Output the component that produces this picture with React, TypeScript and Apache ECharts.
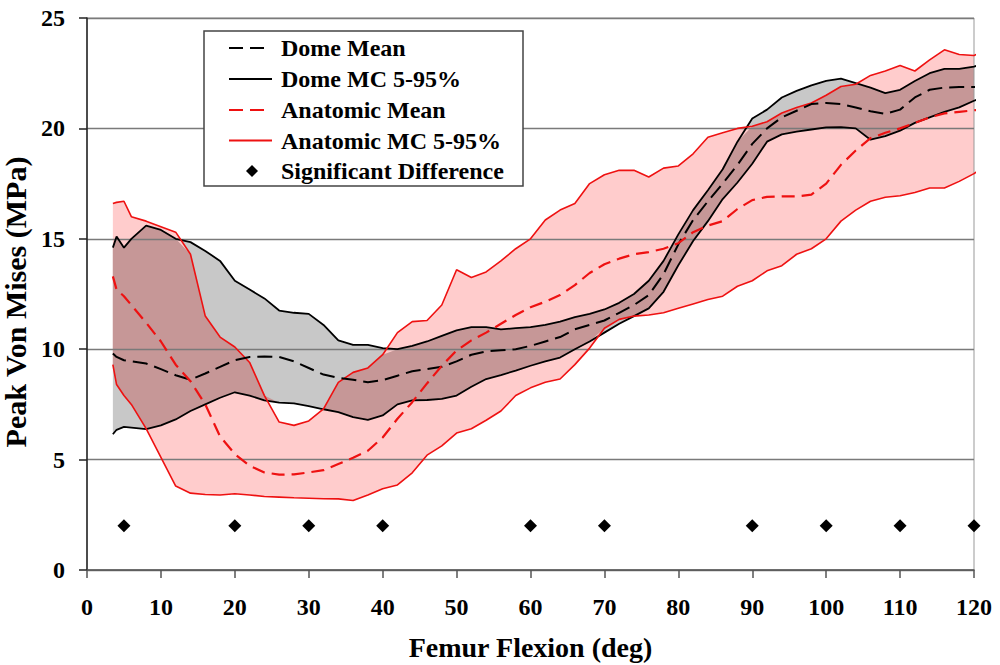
import React, { useEffect, useRef } from 'react';
import * as echarts from 'echarts';

// Femur flexion angles (deg) at which the curves were read
const flexion = [3.5, 4, 5, 6, 8, 10, 12, 14, 16, 18, 20, 22, 24, 26, 28, 30, 32, 34, 36, 38, 40, 42, 44, 46, 48, 50, 52, 54, 56, 58, 60, 62, 64, 66, 68, 70, 72, 74, 76, 78, 80, 82, 84, 86, 88, 90, 92, 94, 96, 98, 100, 102, 104, 106, 108, 110, 112, 114, 116, 118, 120, 120.8];

const domeUpper = [14.6, 15.1, 14.6, 15.0, 15.6, 15.4, 15.0, 14.85, 14.45, 14.0, 13.1, 12.7, 12.3, 11.75, 11.65, 11.6, 11.1, 10.4, 10.2, 10.2, 10.05, 10.0, 10.15, 10.35, 10.6, 10.85, 11.0, 11.0, 10.9, 10.95, 11.0, 11.1, 11.25, 11.45, 11.6, 11.8, 12.1, 12.5, 13.1, 14.0, 15.2, 16.3, 17.2, 18.15, 19.4, 20.45, 20.85, 21.4, 21.7, 21.95, 22.15, 22.25, 22.05, 21.85, 21.6, 21.75, 22.15, 22.5, 22.7, 22.7, 22.8, 22.88];

const domeMean = [9.8, 9.65, 9.5, 9.45, 9.35, 9.1, 8.82, 8.62, 8.9, 9.2, 9.5, 9.65, 9.67, 9.65, 9.45, 9.15, 8.85, 8.7, 8.62, 8.5, 8.6, 8.8, 9.0, 9.1, 9.2, 9.45, 9.75, 9.9, 9.95, 10.0, 10.15, 10.35, 10.55, 10.9, 11.1, 11.3, 11.65, 12.0, 12.45, 13.4, 14.75, 15.85, 16.7, 17.5, 18.35, 19.3, 20.0, 20.5, 20.8, 21.1, 21.15, 21.1, 20.95, 20.78, 20.66, 20.85, 21.4, 21.75, 21.85, 21.87, 21.87, 21.87];

const domeLower = [6.15, 6.35, 6.48, 6.45, 6.38, 6.55, 6.82, 7.2, 7.5, 7.8, 8.05, 7.9, 7.68, 7.58, 7.55, 7.42, 7.28, 7.15, 6.92, 6.8, 7.0, 7.5, 7.68, 7.7, 7.75, 7.9, 8.3, 8.65, 8.83, 9.03, 9.25, 9.45, 9.62, 10.0, 10.35, 10.75, 11.15, 11.5, 11.85, 12.6, 13.8, 14.9, 15.8, 16.8, 17.55, 18.4, 19.4, 19.73, 19.85, 19.95, 20.05, 20.06, 20.0, 19.49, 19.65, 19.9, 20.25, 20.5, 20.75, 20.95, 21.25, 21.37];

const anatUpper = [16.6, 16.65, 16.7, 16.0, 15.8, 15.55, 15.3, 14.3, 11.5, 10.55, 10.1, 9.4, 7.9, 6.7, 6.55, 6.75, 7.3, 8.5, 8.95, 9.15, 9.75, 10.75, 11.25, 11.3, 12.0, 13.6, 13.25, 13.5, 14.0, 14.55, 15.0, 15.85, 16.3, 16.6, 17.5, 17.9, 18.1, 18.1, 17.8, 18.2, 18.3, 18.85, 19.6, 19.8, 20.0, 20.1, 20.3, 20.7, 20.95, 21.15, 21.5, 21.9, 22.0, 22.4, 22.6, 22.85, 22.6, 23.1, 23.56, 23.35, 23.3, 23.41];

const anatMean = [13.3, 12.7, 12.4, 12.0, 11.2, 10.35, 9.3, 8.55, 7.5, 6.05, 5.25, 4.72, 4.42, 4.32, 4.33, 4.42, 4.52, 4.8, 5.08, 5.4, 6.0, 6.85, 7.6, 8.45, 9.25, 9.94, 10.4, 10.75, 11.15, 11.55, 11.9, 12.15, 12.45, 12.9, 13.45, 13.85, 14.1, 14.3, 14.4, 14.55, 14.8, 15.3, 15.6, 15.8, 16.35, 16.75, 16.9, 16.92, 16.92, 17.0, 17.5, 18.35, 19.0, 19.56, 19.8, 20.0, 20.25, 20.5, 20.68, 20.75, 20.82, 20.85];

const anatLower = [9.3, 8.4, 7.9, 7.5, 6.4, 5.1, 3.8, 3.48, 3.42, 3.4, 3.45, 3.4, 3.33, 3.3, 3.27, 3.25, 3.23, 3.22, 3.15, 3.4, 3.68, 3.85, 4.4, 5.2, 5.62, 6.2, 6.4, 6.78, 7.2, 7.9, 8.25, 8.5, 8.65, 9.3, 10.05, 10.95, 11.35, 11.5, 11.55, 11.65, 11.85, 12.05, 12.25, 12.4, 12.85, 13.1, 13.55, 13.78, 14.3, 14.55, 15.0, 15.8, 16.3, 16.7, 16.88, 16.95, 17.1, 17.3, 17.3, 17.6, 17.95, 18.13];

const sigFlexion = [5, 20, 30, 40, 60, 70, 90, 100, 110, 120];
const sigStress = [2, 2, 2, 2, 2, 2, 2, 2, 2, 2];

const xTitle = 'Femur Flexion (deg)';
const yTitle = 'Peak Von Mises (MPa)';
const legendLabels = ['Dome Mean', 'Dome MC 5-95%', 'Anatomic Mean', 'Anatomic MC 5-95%', 'Significant Difference'];

const FONT = '"Liberation Serif", "Times New Roman", serif';
const RED = '#ee1111';

const pairs = (ys: number[]) => flexion.map((x, i) => [x, ys[i]]);

// overlap band of the two 5-95% regions
const overlapLower = flexion.map((_, i) => Math.max(domeLower[i], anatLower[i]));
const overlapUpper = flexion.map((_, i) => Math.max(Math.min(domeUpper[i], anatUpper[i]), overlapLower[i]));

function band(upper: number[], lower: number[], color: string, z: number) {
  return {
    type: 'custom',
    silent: true,
    clip: true,
    z,
    data: [[flexion[0], lower[0]]],
    renderItem: (_params: any, api: any) => {
      const pts: number[][] = [];
      for (let i = 0; i < flexion.length; i++) pts.push(api.coord([flexion[i], upper[i]]));
      for (let i = flexion.length - 1; i >= 0; i--) pts.push(api.coord([flexion[i], lower[i]]));
      return { type: 'polygon', shape: { points: pts }, style: { fill: color, stroke: null } };
    },
  };
}

function lineSeries(name: string, ys: number[], color: string, width: number, dash: any) {
  return {
    type: 'line',
    name,
    data: pairs(ys),
    symbol: 'none',
    clip: false,
    z: 5,
    silent: true,
    lineStyle: { color, width, type: dash },
  };
}

function legendGraphics() {
  const rowsY = [48, 79, 110, 140.5, 171];
  const els: any[] = [
    {
      type: 'rect',
      shape: { x: 204, y: 31, width: 319, height: 155 },
      style: { fill: '#ffffff', stroke: '#444444', lineWidth: 1.5 },
      z: 100,
    },
  ];
  const samples = [
    { color: '#000000', dash: [14, 7], len: 35, w: 2 },
    { color: '#000000', dash: null, len: 43, w: 2 },
    { color: RED, dash: [14, 7], len: 35, w: 2.2 },
    { color: RED, dash: null, len: 43, w: 1.8 },
  ];
  samples.forEach((s, i) => {
    els.push({
      type: 'line',
      shape: { x1: 229, y1: rowsY[i], x2: 229 + s.len, y2: rowsY[i] },
      style: { stroke: s.color, lineWidth: s.w, lineDash: s.dash },
      z: 101,
    });
  });
  const dy = rowsY[4];
  els.push({
    type: 'polygon',
    shape: { points: [[252, dy - 6], [258, dy], [252, dy + 6], [246, dy]] },
    style: { fill: '#000000' },
    z: 101,
  });
  legendLabels.forEach((t, i) => {
    els.push({
      type: 'text',
      x: 281,
      y: rowsY[i],
      style: {
        text: t,
        font: `bold 24px ${FONT}`,
        fill: '#000000',
        align: 'left',
        verticalAlign: 'middle',
        textAlign: 'left',
        textVerticalAlign: 'middle',
      },
      z: 101,
    });
  });
  return els;
}

export default function App() {
  const ref = useRef<HTMLDivElement>(null);

  useEffect(() => {
    if (!ref.current) return;
    const chart = echarts.init(ref.current, undefined, { renderer: 'svg' });
    const labelStyle = { fontFamily: FONT, fontWeight: 'bold', color: '#000', fontSize: 24 };
    chart.setOption({
      animation: false,
      backgroundColor: '#ffffff',
      grid: {
        left: 87, right: 26, top: 18, bottom: 95,
        containLabel: false,
        outerBoundsMode: 'none',
        show: true, borderColor: '#999999', borderWidth: 1, backgroundColor: 'transparent', z: 3,
      },
      xAxis: {
        type: 'value', min: 0, max: 120, interval: 10, z: 3,
        name: xTitle, nameLocation: 'middle', nameGap: 63,
        nameTextStyle: { fontFamily: FONT, fontWeight: 'bold', color: '#000', fontSize: 28 },
        axisLine: { show: true, lineStyle: { color: '#555555', width: 1.5 } },
        axisTick: { show: true, length: 8, lineStyle: { color: '#555555', width: 1.5 } },
        axisLabel: { ...labelStyle, margin: 25 },
        splitLine: { show: false },
      },
      yAxis: {
        type: 'value', min: 0, max: 25, interval: 5, z: 3,
        name: yTitle, nameLocation: 'middle', nameGap: 43,
        nameTextStyle: { fontFamily: FONT, fontWeight: 'bold', color: '#000', fontSize: 30, padding: [0, 16, 0, 0] },
        axisLine: { show: true, lineStyle: { color: '#222222', width: 1.5 } },
        axisTick: { show: true, length: 8, lineStyle: { color: '#222222', width: 1.5 } },
        axisLabel: { ...labelStyle, margin: 22 },
        splitLine: { show: true, lineStyle: { color: '#7a7a7a', width: 1.3 } },
      },
      graphic: legendGraphics(),
      series: [
        band(domeUpper, domeLower, '#c8c8c8', 1),
        band(anatUpper, anatLower, '#ffcccc', 1),
        band(overlapUpper, overlapLower, '#c69797', 1),
        lineSeries('Dome MC 5-95%', domeUpper, '#000000', 1.8, 'solid'),
        lineSeries('Dome MC 5-95%', domeLower, '#000000', 1.8, 'solid'),
        lineSeries('Anatomic MC 5-95%', anatUpper, RED, 1.6, 'solid'),
        lineSeries('Anatomic MC 5-95%', anatLower, RED, 1.6, 'solid'),
        lineSeries('Dome Mean', domeMean, '#000000', 2, [15, 7]),
        lineSeries('Anatomic Mean', anatMean, RED, 2.2, [13, 7]),
        {
          type: 'scatter',
          name: 'Significant Difference',
          data: sigFlexion.map((x, i) => [x, sigStress[i]]),
          symbol: 'diamond',
          symbolSize: 13,
          itemStyle: { color: '#000000', opacity: 1 },
          clip: false,
          z: 6,
          silent: true,
        },
      ],
    });
    return () => chart.dispose();
  }, []);

  return (
    <div
      ref={ref}
      style={{ position: 'fixed', left: 0, top: 0, width: 1000, height: 665, background: '#fff' }}
    />
  );
}
